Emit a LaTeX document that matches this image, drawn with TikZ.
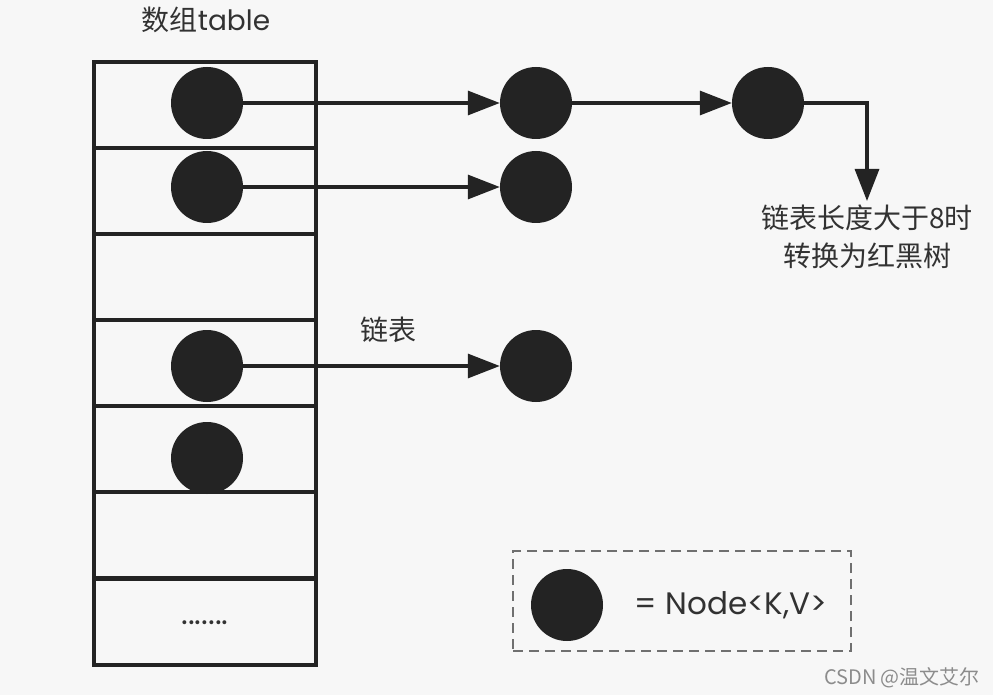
\documentclass[tikz,border=0pt]{standalone}
\usepackage{fontspec}
\setmainfont{Poppins}
\newfontfamily\cjk{Noto Sans CJK SC}
\usetikzlibrary{arrows.meta,positioning}

\definecolor{paper}{RGB}{247,247,247}
\definecolor{ink}{RGB}{35,35,35}
\definecolor{words}{RGB}{50,50,50}

\tikzset{
  entry/.style={circle,fill=ink,minimum size=72pt,inner sep=0pt},
  cell/.style={draw=ink,line width=3.2pt,minimum width=222pt,minimum height=86pt,inner sep=0pt},
  link/.style={draw=ink,line width=3.2pt,-{Triangle[length=32pt,width=24pt]}},
  words/.style={text=words,font=\fontsize{28}{38}\selectfont,align=center},
}

\begin{document}
\begin{tikzpicture}[x=1pt,y=-1pt]
\fill[paper] (0,0) rectangle (993,695);
\useasboundingbox (0,0) rectangle (993,695);

\node[words] (title) at (206,20) {{\cjk 数组}table};

% the table
\foreach \i in {0,...,5}
  \node[cell] (cell\i) at (205,{105+86*\i}) {};
\node[cell,words] (cell6) at (205,622) {\raisebox{-6pt}{\fontsize{32}{38}\selectfont.......}};

\node[entry] (e1) at (207,103) {};
\node[entry] (e2) at (207,187) {};
\node[entry] (e4) at (207,366) {};
\node[entry] (e5) at (207,458) {};

% the chains
\node[entry] (n1) at (536,103) {};
\node[entry] (n2) at (768,103) {};
\node[entry] (m1) at (536,187) {};
\node[entry] (k1) at (536,366) {};
\coordinate (tip) at (867,201);

\draw[link] (e1) -- (n1);
\draw[link] (n1) -- (n2);
\draw[link] (n2) -| (tip);
\draw[link] (e2) -- (m1);
\draw[link] (e4) -- (k1);

\node[words] (chain) at (388,330) {\cjk 链表};
\node[words,below=0pt of tip] (note) {\cjk 链表长度大于8时\\\cjk 转换为红黑树};

% legend
\node[draw=ink!65,dashed,dash pattern=on 10pt off 6pt,line width=2pt,
      minimum width=338pt,minimum height=100pt] (legend) at (682,601) {};
\node[entry] (key) at (567,605) {};
\node[words,font=\fontsize{31}{38}\selectfont,right=28pt of key.east] (keytext) {= Node<K,V>};

\node[text=black!45,font=\cjk\fontsize{20}{24}\selectfont] (mark) at (902,678) {CSDN @温文艾尔};
\end{tikzpicture}
\end{document}
